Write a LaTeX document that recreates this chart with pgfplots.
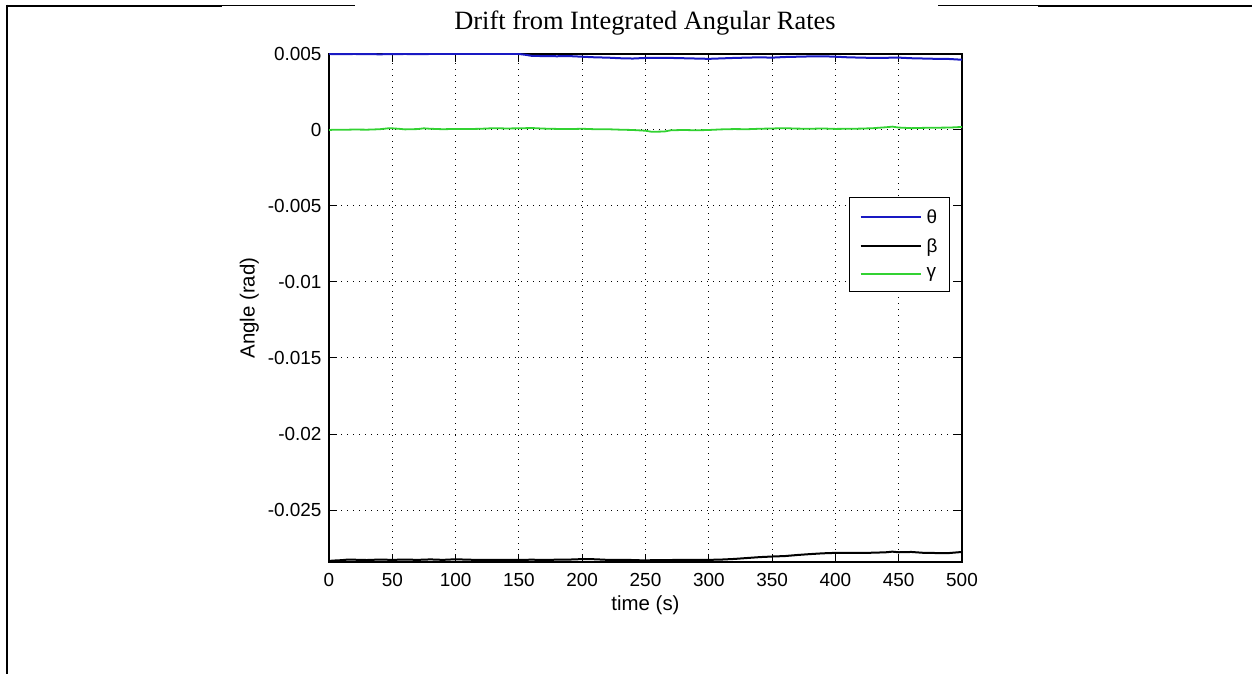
\documentclass[border=0pt]{standalone}
\usepackage{pgfplots}
\pgfplotsset{compat=1.18}
\usepackage{fontspec}
\setmainfont{Liberation Sans}
\newfontfamily\titlefont{Liberation Serif}
\definecolor{mblue}{RGB}{25,25,195}
\definecolor{mgreen}{RGB}{50,210,50}
\begin{document}
\begin{tikzpicture}[x=1bp,y=1bp]
\useasboundingbox (0,0) rectangle (1252,674);
\draw[line width=2.5bp] (6,668) -- (222,668);
\draw[line width=1bp] (222,668) -- (355,668);
\draw[line width=1bp] (938,668) -- (1038,668);
\draw[line width=2.5bp] (1038,668) -- (1252,668);
\draw[line width=2.5bp] (7,669.25) -- (7,0);
\node[anchor=base, font=\titlefont\fontsize{26.5}{30}\selectfont] at (645,644) {Drift from Integrated Angular Rates};
\begin{axis}[
  at={(329bp,112bp)}, anchor=south west,
  scale only axis, width=633bp, height=508bp,
  xmin=0, xmax=500, ymin=-0.02842, ymax=0.005,
  xtick={0,50,...,500},
  ytick={-0.025,-0.02,-0.015,-0.01,-0.005,0,0.005},
  scaled y ticks=false,
  tick label style={font=\fontsize{19}{22}\selectfont},
  yticklabel style={xshift=-4bp, /pgf/number format/.cd, fixed, precision=3, assume math mode=true},
  xticklabel style={yshift=-8bp, /pgf/number format/assume math mode=true},
  label style={font=\fontsize{20.5}{24}\selectfont},
  xlabel={time (s)}, ylabel={Angle (rad)},
  xlabel style={yshift=-2bp},
  ylabel style={yshift=2bp},
  tick align=inside, major tick length=8bp,
  tick style={black, line width=1bp},
  axis line style={line width=1.5bp},
  grid=major,
  major grid style={black, line width=1bp, dash pattern=on 1bp off 5bp},
  legend style={at={(0.8215,0.7185)}, anchor=north west, draw=black, line width=1bp,
    font=\fontsize{19}{22}\selectfont, inner xsep=10bp, inner ysep=10bp, row sep=10bp},
  legend cell align=left,
  legend image code/.code={\draw[#1, line width=2.2bp] (0bp,0bp) -- (60bp,0bp); \path (63bp,0bp);},
]
\addplot[mblue, line width=2bp] coordinates {
(0,0.00500) (10,0.00499) (20,0.00500) (30,0.00499) (40,0.00498) (50,0.00499) (60,0.00500)
(70,0.00499) (80,0.00500) (100,0.00500) (120,0.00500) (140,0.00500) (150,0.00500) (155,0.00495)
(160,0.00488) (170,0.00486) (180,0.00485) (190,0.00486) (200,0.00482) (210,0.00478) (220,0.00476)
(230,0.00472) (240,0.00470) (250,0.00474) (260,0.00475) (270,0.00474) (280,0.00472) (290,0.00470)
(300,0.00468) (310,0.00471) (320,0.00474) (330,0.00476) (340,0.00478) (350,0.00476) (360,0.00480)
(370,0.00482) (380,0.00484) (390,0.00485) (400,0.00482) (410,0.00478) (420,0.00476) (430,0.00474)
(440,0.00475) (450,0.00476) (460,0.00472) (470,0.00470) (480,0.00468) (490,0.00467) (500,0.00462)
};
\addlegendentry{θ}
\addplot[black, line width=2bp] coordinates {
(0,-0.02835) (5,-0.02832) (10,-0.02830) (15,-0.02826) (20,-0.02827) (30,-0.02829) (40,-0.02826)
(50,-0.02828) (60,-0.02826) (70,-0.02828) (80,-0.02825) (90,-0.02828) (100,-0.02824) (110,-0.02827)
(120,-0.02828) (130,-0.02828) (140,-0.02828) (150,-0.02828) (160,-0.02827) (170,-0.02828) (180,-0.02827)
(190,-0.02826) (200,-0.02823) (210,-0.02824) (220,-0.02828) (230,-0.02828) (240,-0.02829) (250,-0.02832)
(255,-0.02830) (260,-0.02829) (270,-0.02829) (280,-0.02828) (290,-0.02828) (300,-0.02828) (310,-0.02826)
(320,-0.02822) (330,-0.02816) (340,-0.02810) (350,-0.02806) (360,-0.02803) (370,-0.02796) (380,-0.02790)
(390,-0.02785) (400,-0.02782) (410,-0.02782) (420,-0.02782) (430,-0.02781) (440,-0.02778) (445,-0.02774)
(450,-0.02778) (460,-0.02776) (470,-0.02782) (480,-0.02783) (490,-0.02783) (500,-0.02776)
};
\addlegendentry{β}
\addplot[mgreen, line width=1.8bp] coordinates {
(0,0.00000) (5,0.00002) (10,0.00001) (20,0.00003) (30,0.00002) (40,0.00005) (48,0.00012) (55,0.00008)
(60,0.00004) (70,0.00006) (75,0.00011) (80,0.00008) (90,0.00005) (100,0.00007) (110,0.00006) (120,0.00008)
(130,0.00012) (140,0.00010) (150,0.00011) (160,0.00013) (170,0.00009) (180,0.00007) (190,0.00006)
(200,0.00008) (210,0.00005) (220,0.00005) (230,0.00002) (240,0.00000) (250,-0.00005) (255,-0.00012)
(265,-0.00010) (270,-0.00002) (280,0.00000) (290,-0.00002) (300,0.00000) (310,0.00004) (320,0.00006)
(330,0.00005) (340,0.00008) (350,0.00010) (360,0.00012) (370,0.00009) (380,0.00008) (390,0.00010)
(400,0.00007) (410,0.00008) (420,0.00009) (430,0.00012) (440,0.00018) (445,0.00022) (450,0.00016)
(460,0.00012) (470,0.00014) (480,0.00015) (490,0.00016) (500,0.00020)
};
\addlegendentry{γ}
\end{axis}
\end{tikzpicture}
\end{document}
